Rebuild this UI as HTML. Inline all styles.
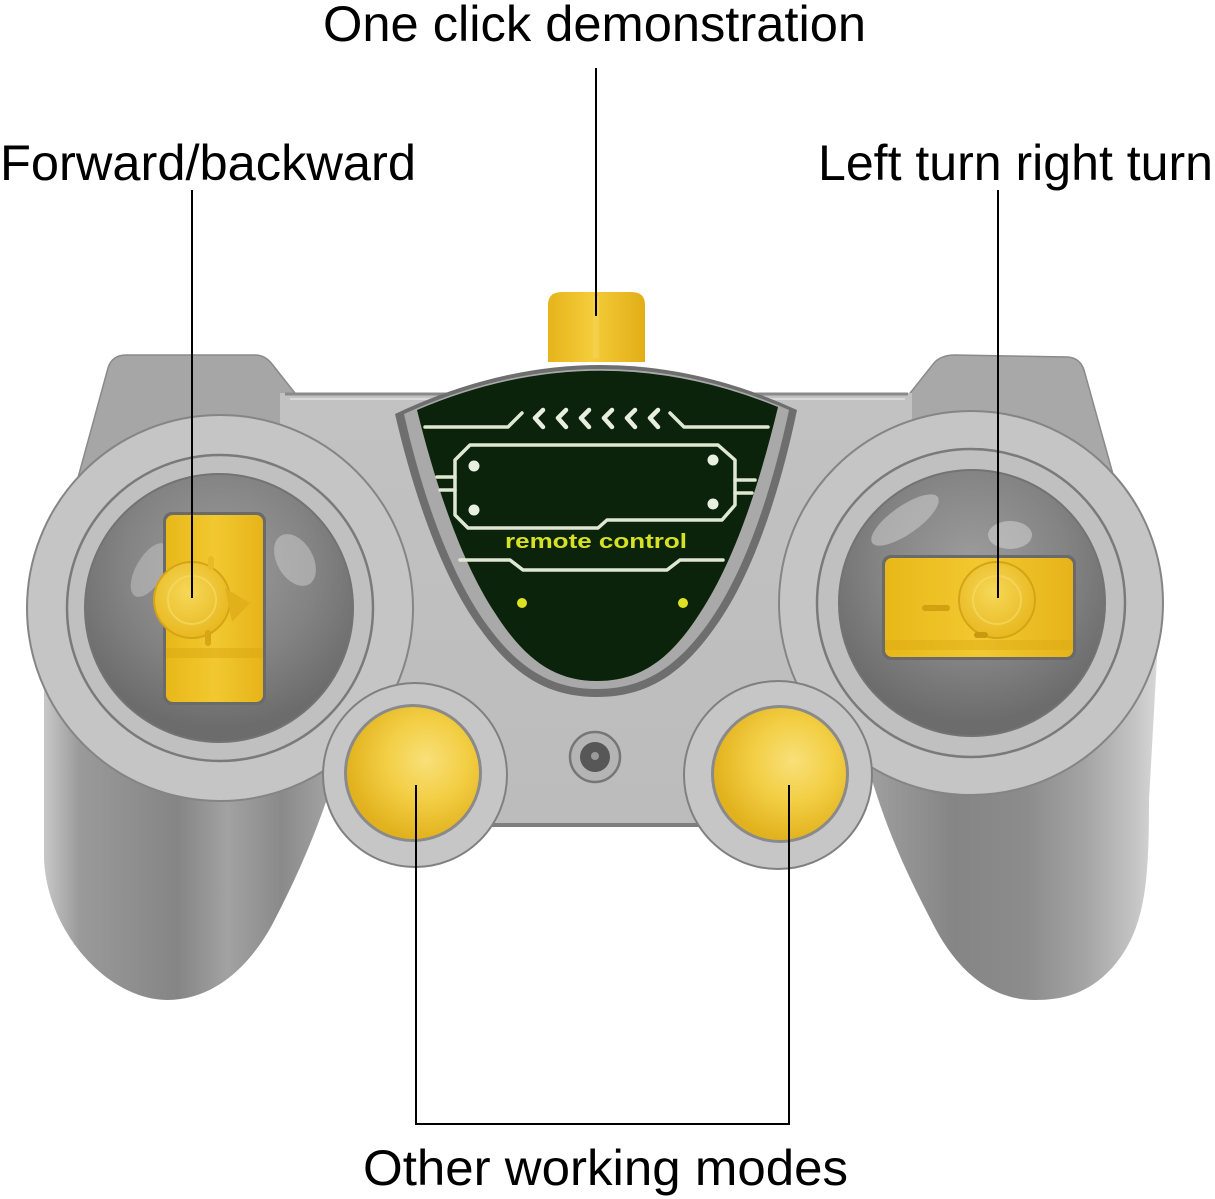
<!DOCTYPE html>
<html><head><meta charset="utf-8">
<style>
html,body{margin:0;padding:0;background:#fff;}
svg{display:block;}
text{font-family:"Liberation Sans",Arial,sans-serif;}
</style></head>
<body>
<svg width="1215" height="1199" viewBox="0 0 1215 1199" xmlns="http://www.w3.org/2000/svg">
<defs>
  <linearGradient id="hL" x1="0" y1="0" x2="1" y2="0">
    <stop offset="0" stop-color="#c8c8c8"/>
    <stop offset="0.12" stop-color="#9a9a9a"/>
    <stop offset="0.45" stop-color="#858585"/>
    <stop offset="0.62" stop-color="#a2a2a2"/>
    <stop offset="0.8" stop-color="#8a8a8a"/>
    <stop offset="1" stop-color="#a8a8a8"/>
  </linearGradient>
  <linearGradient id="hR" x1="0" y1="0" x2="1" y2="0">
    <stop offset="0" stop-color="#a0a0a0"/>
    <stop offset="0.3" stop-color="#858585"/>
    <stop offset="0.55" stop-color="#8c8c8c"/>
    <stop offset="0.75" stop-color="#a4a4a4"/>
    <stop offset="0.92" stop-color="#c4c4c4"/>
    <stop offset="1" stop-color="#d8d8d8"/>
  </linearGradient>
  <radialGradient id="well" cx="0.5" cy="0.35" r="0.6">
    <stop offset="0" stop-color="#9c9c9c"/>
    <stop offset="0.6" stop-color="#838383"/>
    <stop offset="1" stop-color="#6c6c6c"/>
  </radialGradient>
  <radialGradient id="btn" cx="0.6" cy="0.4" r="0.6">
    <stop offset="0" stop-color="#f8e07a"/>
    <stop offset="0.5" stop-color="#f3cf45"/>
    <stop offset="1" stop-color="#e2b21e"/>
  </radialGradient>
  <linearGradient id="stickY" x1="0" y1="0" x2="1" y2="0">
    <stop offset="0" stop-color="#e8b818"/>
    <stop offset="0.5" stop-color="#f2c830"/>
    <stop offset="1" stop-color="#e6b41a"/>
  </linearGradient>
  <radialGradient id="knob" cx="0.45" cy="0.4" r="0.6">
    <stop offset="0" stop-color="#f6d858"/>
    <stop offset="1" stop-color="#e8b820"/>
  </radialGradient>
  <linearGradient id="topk" x1="0" y1="0" x2="1" y2="0">
    <stop offset="0" stop-color="#e6b41a"/>
    <stop offset="0.45" stop-color="#f4cc3a"/>
    <stop offset="1" stop-color="#e2ae16"/>
  </linearGradient>
  <linearGradient id="body" x1="0" y1="0" x2="0" y2="1">
    <stop offset="0" stop-color="#c2c2c2"/>
    <stop offset="1" stop-color="#bcbcbc"/>
  </linearGradient>
</defs>

<rect width="1215" height="1199" fill="#fff"/>

<!-- handles -->
<path d="M44,640 L44,860 C48,935 110,1000 167,1000 C215,1000 250,965 272,925 C298,875 318,830 340,760 L340,640 Z" fill="url(#hL)"/>
<path d="M1158,640 L1149,800 C1149,880 1146,930 1112,968 C1088,994 1062,1000 1035,1000 C985,1000 952,962 932,922 C906,872 886,830 866,760 L866,640 Z" fill="url(#hR)"/>

<!-- shoulders -->
<path d="M76,485 L108,368 Q112,355 126,355 L255,355 Q265,355 272,364 L302,402 L302,485 Z" fill="#a6a6a6" stroke="#8a8a8a" stroke-width="1.5"/>
<path d="M903,402 L934,363 Q941,355 955,355 L1068,357 Q1080,358 1084,370 L1116,485 L903,485 Z" fill="#a8a8a8" stroke="#8a8a8a" stroke-width="1.5"/>

<!-- main body -->
<path d="M280,393 L912,393 L912,650 L858,700 L856,826 L345,826 L345,700 L280,650 Z" fill="url(#body)"/>
<line x1="285" y1="394" x2="908" y2="394" stroke="#8a8a8a" stroke-width="3"/>
<line x1="290" y1="399" x2="905" y2="399" stroke="#dadada" stroke-width="2"/>
<line x1="345" y1="825" x2="856" y2="825" stroke="#7e7e7e" stroke-width="4"/>

<!-- top knob -->
<path d="M548,362 L548,305 Q548,292 562,292 L631,292 Q645,292 645,305 L645,362 Z" fill="url(#topk)"/>
<line x1="596" y1="296" x2="596" y2="358" stroke="#f6d660" stroke-width="6" opacity="0.5"/>

<!-- panel bevel -->
<path d="M395,414 Q597,318 797,410 C780,492 752,578 713,630 C680,676 645,697 597,697 C549,697 514,676 481,630 C442,578 413,492 395,414 Z" fill="#6e6e6e"/>
<path d="M404,414 Q597,326 789,410 C772,490 745,573 707,625 C675,669 642,689 597,689 C552,689 519,669 487,625 C449,573 421,490 404,414 Z" fill="#a9a9a9"/>
<!-- green panel -->
<path d="M417,410 Q597,333 778,407 C760,482 735,560 700,613 C670,660 640,681 597,681 C555,681 525,660 495,613 C460,560 435,482 417,410 Z" fill="#0b230a"/>

<!-- circuit details -->
<g fill="none" stroke="#dfe8d2" stroke-width="3.5" stroke-linejoin="round" stroke-linecap="round">
  <polyline points="425,427 508,427 522,413"/>
  <polyline points="670,413 684,427 768,427"/>
  <path d="M470,445 L718,445 L735,460 L735,505 L722,520 L607,520 L598,528 L468,528 L455,515 L455,460 Z"/>
  <line x1="437" y1="477" x2="455" y2="477"/>
  <line x1="440" y1="490" x2="455" y2="490"/>
  <line x1="735" y1="480" x2="755" y2="480"/>
  <line x1="735" y1="493" x2="752" y2="493"/>
  <polyline points="460,560 510,560 523,570 667,570 680,560 723,560"/>
</g>
<g fill="none" stroke="#e8efe0" stroke-width="4.5" stroke-linecap="round" stroke-linejoin="round">
  <polyline points="543,410 535,418 543,427"/>
  <polyline points="566,410 558,418 566,427"/>
  <polyline points="589,410 581,418 589,427"/>
  <polyline points="612,410 604,418 612,427"/>
  <polyline points="635,410 627,418 635,427"/>
  <polyline points="658,410 650,418 658,427"/>
</g>
<g fill="#e8f0e0">
  <circle cx="474" cy="466" r="5.5"/>
  <circle cx="474" cy="510" r="5.5"/>
  <circle cx="713" cy="460" r="5.5"/>
  <circle cx="713" cy="504" r="5.5"/>
</g>
<text x="505" y="548" font-family="'Liberation Mono',monospace" font-weight="bold" font-size="20" fill="#d6e024" textLength="182" lengthAdjust="spacingAndGlyphs">remote control</text>
<circle cx="522" cy="603" r="5" fill="#dfe224"/>
<circle cx="683" cy="603" r="5" fill="#dfe224"/>

<!-- left joystick -->
<circle cx="220" cy="608" r="193" fill="#c5c5c5" stroke="#858585" stroke-width="2"/>
<circle cx="220" cy="608" r="153" fill="#c0c0c0" stroke="#7a7a7a" stroke-width="2.5"/>
<circle cx="219" cy="608" r="134" fill="url(#well)" stroke="#737373" stroke-width="2"/>
<ellipse cx="150" cy="570" rx="14" ry="30" fill="#c8c8c8" opacity="0.5" transform="rotate(30 150 570)"/>
<ellipse cx="295" cy="560" rx="18" ry="28" fill="#d0d0d0" opacity="0.5" transform="rotate(-30 295 560)"/>
<rect x="163" y="512" width="103" height="193" rx="9" fill="#6a6a6a"/>
<rect x="166" y="515" width="97" height="187" rx="7" fill="url(#stickY)"/>
<rect x="166" y="648" width="97" height="10" fill="#d9a812" opacity="0.5"/>
<circle cx="192" cy="600" r="38" fill="url(#knob)" stroke="#d4a416" stroke-width="2"/>
<circle cx="192" cy="600" r="24" fill="none" stroke="#f8dc6a" stroke-width="2" opacity="0.6"/>
<path d="M225,588 L250,603 L232,622 Z" fill="#e2b01a"/>
<rect x="208" y="556" width="6" height="14" rx="3" fill="#e8ba24"/>
<rect x="205" y="630" width="6" height="16" rx="3" fill="#d8a614"/>

<!-- right joystick -->
<circle cx="971" cy="603" r="192" fill="#c5c5c5" stroke="#858585" stroke-width="2"/>
<circle cx="971" cy="603" r="154" fill="#c0c0c0" stroke="#7a7a7a" stroke-width="2.5"/>
<circle cx="972" cy="603" r="133" fill="url(#well)" stroke="#737373" stroke-width="2"/>
<ellipse cx="905" cy="520" rx="14" ry="40" fill="#d0d0d0" opacity="0.55" transform="rotate(55 905 520)"/>
<ellipse cx="1010" cy="535" rx="22" ry="14" fill="#d4d4d4" opacity="0.55"/>
<rect x="882" y="555" width="194" height="105" rx="9" fill="#6a6a6a"/>
<rect x="885" y="558" width="188" height="99" rx="7" fill="url(#stickY)"/>
<rect x="885" y="640" width="188" height="10" fill="#d9a812" opacity="0.4"/>
<circle cx="997" cy="600" r="38" fill="url(#knob)" stroke="#d4a416" stroke-width="2"/>
<circle cx="997" cy="600" r="24" fill="none" stroke="#f8dc6a" stroke-width="2" opacity="0.6"/>
<rect x="922" y="605" width="28" height="6" rx="3" fill="#d2a010"/>
<rect x="974" y="632" width="14" height="6" rx="3" fill="#c89a10"/>

<!-- bottom buttons -->
<circle cx="415" cy="775" r="92" fill="#c6c6c6" stroke="#808080" stroke-width="2"/>
<circle cx="413" cy="773" r="69" fill="#8a8a8a"/>
<circle cx="413" cy="773" r="66" fill="url(#btn)"/>
<circle cx="778" cy="775" r="94" fill="#c6c6c6" stroke="#808080" stroke-width="2"/>
<circle cx="780" cy="774" r="69" fill="#8a8a8a"/>
<circle cx="780" cy="774" r="66" fill="url(#btn)"/>

<!-- center hole -->
<circle cx="595" cy="757" r="25" fill="#b4b4b4" stroke="#767676" stroke-width="2.5"/>
<circle cx="595" cy="757" r="15" fill="#575757"/>
<circle cx="595" cy="756" r="4" fill="#9a9a9a"/>

<!-- label lines -->
<g stroke="#000" stroke-width="2" fill="none">
  <line x1="596" y1="68" x2="596" y2="316"/>
  <line x1="192" y1="190" x2="192" y2="598"/>
  <line x1="998" y1="190" x2="998" y2="598"/>
  <polyline points="416,785 416,1124 789,1124 789,785"/>
</g>

<!-- labels -->
<g font-size="50" fill="#000">
  <text x="323" y="41" textLength="543" lengthAdjust="spacingAndGlyphs">One click demonstration</text>
  <text x="0" y="180" textLength="416" lengthAdjust="spacingAndGlyphs">Forward/backward</text>
  <text x="818" y="180" textLength="395" lengthAdjust="spacingAndGlyphs">Left turn right turn</text>
  <text x="363" y="1185" textLength="485" lengthAdjust="spacingAndGlyphs">Other working modes</text>
</g>
</svg>
</body></html>
